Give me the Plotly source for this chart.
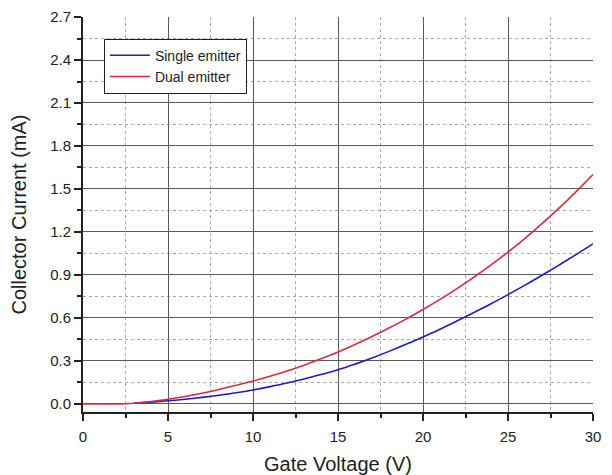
import plotly.graph_objects as go

# Data
v_dual = list(range(0, 31))
i_dual = [0, 0, 0, 0.005, 0.017, 0.033, 0.052, 0.075, 0.101, 0.13, 0.16, 0.193, 0.23, 0.271,
          0.315, 0.363, 0.415, 0.471, 0.53, 0.592, 0.659, 0.73, 0.805, 0.885, 0.97, 1.06,
          1.156, 1.258, 1.366, 1.48, 1.6]
v_single = list(range(3, 31))
i_single = [0.006, 0.013, 0.022, 0.033, 0.046, 0.061, 0.078, 0.098, 0.121, 0.146, 0.174,
            0.205, 0.238, 0.278, 0.321, 0.367, 0.416, 0.468, 0.522, 0.579, 0.638, 0.699,
            0.763, 0.829, 0.898, 0.969, 1.042, 1.117]

x_ticks = [0, 5, 10, 15, 20, 25, 30]
y_ticks = [0.0, 0.3, 0.6, 0.9, 1.2, 1.5, 1.8, 2.1, 2.4, 2.7]

FONT = "Liberation Sans, Arial, sans-serif"
INK = "#222222"

fig = go.Figure()
fig.add_trace(go.Scatter(x=v_single, y=i_single, mode="lines", name="Single emitter",
                         line=dict(color="#1a1ad0", width=1.6, shape="spline")))
fig.add_trace(go.Scatter(x=v_dual, y=i_dual, mode="lines", name="Dual emitter",
                         line=dict(color="#e0283c", width=1.6, shape="spline")))

axis_common = dict(
    showline=True, linecolor=INK, linewidth=2,
    ticks="outside", ticklen=7, tickwidth=1.5, tickcolor=INK,
    showgrid=True, gridcolor="#5a5a5a", gridwidth=1.3,
    zeroline=False, mirror=False, automargin=False,
    tickfont=dict(family=FONT, size=15, color=INK),
    minor=dict(ticks="outside", ticklen=4, tickwidth=1.5, tickcolor=INK,
               showgrid=True, gridcolor="#aaaaaa", griddash="dot", gridwidth=1),
)

fig.update_xaxes(range=[0, 30], tickvals=x_ticks, ticklabelstandoff=3,
                 title=dict(text="Gate Voltage (V)", font=dict(family=FONT, size=20, color=INK),
                            standoff=18),
                 **axis_common)
fig.update_xaxes(minor_dtick=2.5)
fig.update_yaxes(range=[-0.056, 2.7], tickvals=y_ticks, tickformat=".1f",
                 title=dict(text="Collector Current (mA)", font=dict(family=FONT, size=20, color=INK),
                            standoff=18),
                 **axis_common)
fig.update_yaxes(minor_dtick=0.15, minor_tick0=0)

fig.update_layout(
    width=612, height=475,
    margin=dict(l=83, r=19, t=17, b=63),
    plot_bgcolor="white", paper_bgcolor="white",
    legend=dict(x=0.041, y=0.945, xanchor="left", yanchor="top",
                bgcolor="white", bordercolor=INK, borderwidth=1,
                font=dict(family=FONT, size=14, color=INK),
                tracegroupgap=0, itemwidth=40),
    showlegend=True,
)

fig.write_html("out.html")
